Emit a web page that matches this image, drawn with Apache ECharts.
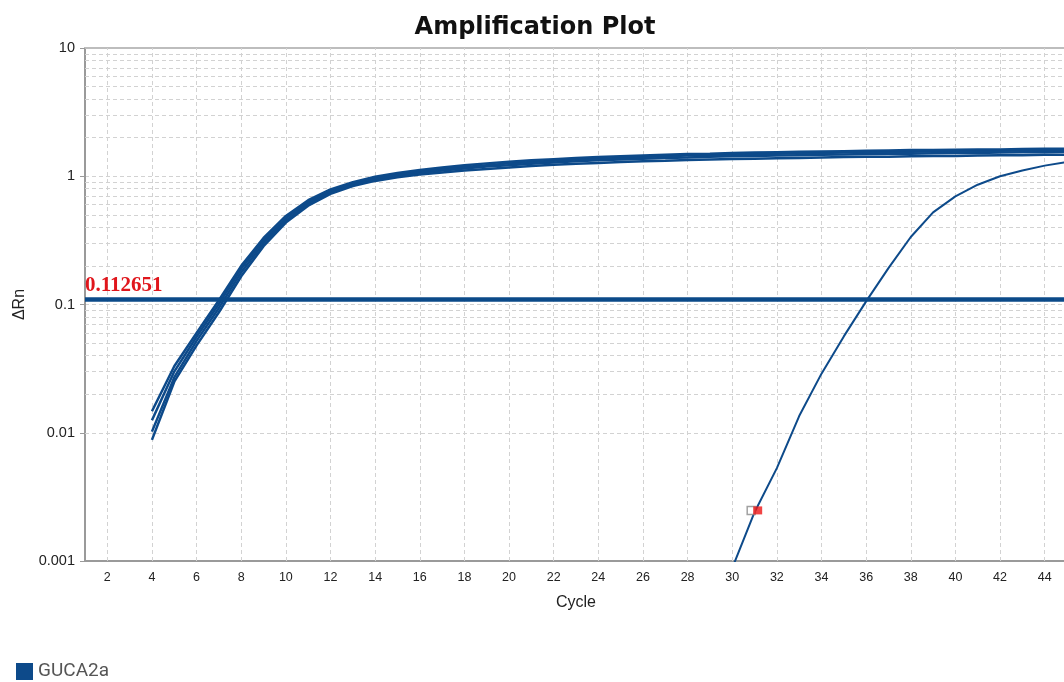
<!DOCTYPE html>
<html><head><meta charset="utf-8">
<script src="https://cdn.jsdelivr.net/npm/echarts@6/dist/echarts.min.js"></script>
<style>html,body{margin:0;padding:0;overflow:hidden;background:#fff}#c{width:1070px;height:682px}</style>
</head><body><div id="c"></div><script>
// ---- data ----
const cycles = [4,5,6,7,8,9,10,11,12,13,14,15,16,17,18,19,20,21,22,23,24,25,26,27,28,29,30,31,32,33,34,35,36,37,38,39,40,41,42,43,44,45];
const wellA = [0.0147,0.033,0.060,0.108,0.20,0.33,0.49,0.65,0.79,0.90,0.99,1.06,1.12,1.17,1.22,1.26,1.30,1.33,1.36,1.39,1.41,1.43,1.45,1.47,1.49,1.50,1.52,1.53,1.54,1.55,1.56,1.57,1.58,1.59,1.60,1.60,1.61,1.62,1.62,1.63,1.64,1.64];
const wellB = [0.0125,0.030,0.056,0.101,0.19,0.315,0.47,0.63,0.77,0.88,0.96,1.03,1.09,1.14,1.18,1.22,1.26,1.29,1.32,1.35,1.37,1.39,1.41,1.43,1.45,1.46,1.48,1.49,1.50,1.51,1.52,1.53,1.54,1.55,1.55,1.56,1.57,1.57,1.58,1.59,1.59,1.60];
const wellC = [0.0102,0.027,0.052,0.094,0.178,0.30,0.45,0.61,0.75,0.86,0.94,1.00,1.06,1.11,1.15,1.19,1.22,1.25,1.28,1.31,1.33,1.35,1.37,1.39,1.40,1.42,1.43,1.44,1.45,1.46,1.47,1.48,1.49,1.50,1.50,1.51,1.52,1.52,1.53,1.54,1.54,1.55];
const wellD = [0.0088,0.025,0.048,0.087,0.166,0.285,0.435,0.59,0.73,0.84,0.92,0.98,1.03,1.07,1.11,1.14,1.17,1.20,1.23,1.25,1.27,1.29,1.31,1.32,1.34,1.35,1.36,1.37,1.38,1.39,1.40,1.41,1.42,1.42,1.43,1.44,1.44,1.45,1.46,1.46,1.47,1.47];
const lateCycles = [30,31,32,33,34,35,36,37,38,39,40,41,42,43,44,45];
const lateWell = [0.00088,0.0024,0.0053,0.0135,0.0289,0.0564,0.1057,0.192,0.336,0.523,0.697,0.859,1.0,1.11,1.21,1.29];
const threshold = 0.112651;
const thresholdLabel = '0.112651';
const markerOpen = [[30.85, 0.00248]];
const markerFilled = [[31.14, 0.00248]];
const yTickLabels = ['0.001','0.01','0.1','1','10'];
const xGridCycles = [2,4,6,8,10,12,14,16,18,20,22,24,26,28,30,32,34,36,38,40,42,44];
const yMinorGrid = [0.002,0.003,0.004,0.005,0.006,0.007,0.008,0.009,
  0.02,0.03,0.04,0.05,0.06,0.07,0.08,0.09,
  0.2,0.3,0.4,0.5,0.6,0.7,0.8,0.9,
  2,3,4,5,6,7,8,9];
const seriesName = 'GUCA2a';

// ---- chart ----
const blue = '#0d4a8a';
const gridColor = '#d2d2d2';
const pair = (xs, ys) => xs.map((x, i) => [x, ys[i]]);
const curve = (xs, ys, w) => ({
  name: seriesName, type: 'line', data: pair(xs, ys), showSymbol: false, symbol: 'none',
  lineStyle: { color: blue, width: w }, itemStyle: { color: blue }, z: 4, silent: true,
  emphasis: { disabled: true }
});

const chart = echarts.init(document.getElementById('c'), null, { renderer: 'canvas' });
chart.setOption({
  animation: false,
  backgroundColor: '#fff',
  title: {
    text: 'Amplification Plot', left: 'center', top: 11,
    textStyle: { fontFamily: 'DejaVu Sans', fontWeight: 'bold', fontSize: 24, color: '#111' }
  },
  legend: {
    data: [seriesName], left: 16, top: 662, padding: 0,
    icon: 'rect', itemWidth: 17, itemHeight: 17, itemGap: 6,
    textStyle: { fontFamily: 'Roboto', fontSize: 19, color: '#555' }
  },
  grid: { left: 85, top: 48, right: 2, bottom: 121, containLabel: false },
  xAxis: [{
    type: 'value', min: 1, max: 45, interval: 1, position: 'bottom',
    axisLine: { show: true, lineStyle: { color: '#9a9a9a', width: 2 } },
    axisTick: { show: false },
    axisLabel: { formatter: v => (v % 2 === 0 ? String(v) : ''), fontFamily: 'Liberation Sans', fontSize: 12.5, color: '#222', margin: 10 },
    splitLine: { show: false },
    name: 'Cycle', nameLocation: 'middle', nameGap: 34,
    nameTextStyle: { fontFamily: 'Liberation Sans', fontSize: 16, color: '#222' }
  }, {
    type: 'value', min: 1, max: 45, position: 'top',
    axisLine: { show: true, lineStyle: { color: '#bdbdbd', width: 2 } },
    axisTick: { show: false }, axisLabel: { show: false }, splitLine: { show: false }
  }],
  yAxis: {
    type: 'log', logBase: 10, min: 0.001, max: 10,
    axisLine: { show: true, lineStyle: { color: '#9a9a9a', width: 2 } },
    axisTick: { show: true, length: 5, lineStyle: { color: '#9a9a9a' } },
    axisLabel: {
      formatter: v => yTickLabels[Math.round(Math.log10(v)) + 3],
      fontFamily: 'Liberation Sans', fontSize: 14.5, color: '#222', margin: 10
    },
    splitLine: { show: true, lineStyle: { color: gridColor, type: [4, 3], width: 1 } },
    name: 'ΔRn', nameLocation: 'middle', nameGap: 56, nameRotate: 90,
    nameTextStyle: { fontFamily: 'Liberation Sans', fontSize: 16, color: '#222' }
  },
  series: [
    {
      name: 'grid', type: 'line', data: [], z: 1, silent: true,
      markLine: {
        z: 1, silent: true, symbol: 'none', animation: false,
        label: { show: false }, emphasis: { disabled: true },
        lineStyle: { color: gridColor, type: [4, 3], width: 1 },
        data: xGridCycles.map(v => ({ xAxis: v })).concat(yMinorGrid.map(v => ({ yAxis: v })))
      }
    },
    curve(cycles, wellD, 2.5), curve(cycles, wellC, 2.5), curve(cycles, wellB, 2.5), curve(cycles, wellA, 2.5),
    curve(lateCycles, lateWell, 2),
    {
      name: 'threshold', type: 'line', data: [], z: 5, silent: true,
      markLine: {
        z: 5, silent: true, symbol: 'none', animation: false, emphasis: { disabled: true },
        lineStyle: { color: '#0b4a89', type: 'solid', width: 4.5 },
        label: {
          show: true, position: 'insideStartTop', formatter: thresholdLabel, distance: [0, 3],
          color: '#e0161c', fontFamily: 'Liberation Serif', fontWeight: 'bold', fontSize: 21
        },
        data: [{ yAxis: threshold }]
      }
    },
    {
      name: 'ctOpen', type: 'scatter', data: markerOpen, symbol: 'rect', symbolSize: [8, 8], z: 6, silent: true,
      itemStyle: { color: '#fff', borderColor: '#8a8a8a', borderWidth: 1.5 }
    },
    {
      name: 'ctFilled', type: 'scatter', data: markerFilled, symbol: 'rect', symbolSize: [9, 8], z: 6, silent: true,
      itemStyle: { color: '#ee1515' }
    }
  ]
});
</script></body></html>
